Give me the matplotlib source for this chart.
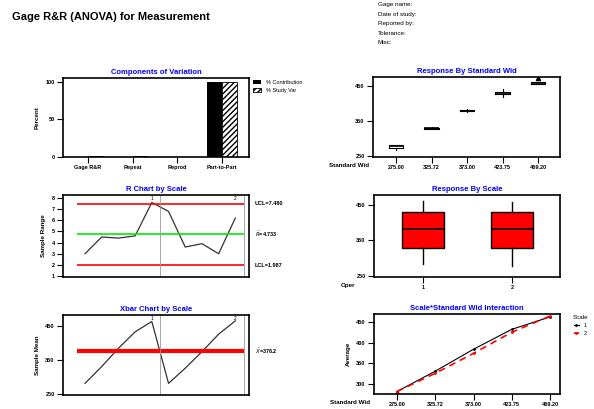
import numpy as np
import matplotlib
matplotlib.use("Agg")
from matplotlib import pyplot as plt

plt.rcParams['font.family'] = ['Liberation Sans', 'DejaVu Sans']

W, H = 594, 409

# components of variation
components = ['Gage R&R', 'Repeat', 'Reprod', 'Part-to-Part']
pct_contribution = [0.3, 0.25, 0.05, 99.7]
pct_study_var = [1.5, 1.3, 0.6, 99.8]

# response by standard width (box summaries)
widths = ['275.00', '325.72', '373.00', '423.75', '469.20']
part_whislo = [268, 326, 376, 419, 455]
part_q1 = [274, 328, 378, 428, 457]
part_med = [279, 330, 379, 430, 459]
part_q3 = [281, 331, 381, 432, 461]
part_whishi = [282, 333, 383, 441, 463]
part_fliers = [[], [], [], [], [473]]

# response by operator (box summaries)
opers = ['1', '2']
oper_whislo = [284, 278]
oper_q1 = [329, 329]
oper_med = [382, 382]
oper_q3 = [430, 430]
oper_whishi = [461, 459]

# R chart / Xbar chart, 5 parts per operator
r_op1 = [3.0, 4.5, 4.4, 4.6, 7.6]
r_op2 = [6.8, 3.6, 3.9, 3.0, 6.2]
ucl_r, rbar, lcl_r = 7.480, 4.733, 1.987
xbar_op1 = [282, 331, 384, 432, 462]
xbar_op2 = [282, 326, 374, 425, 464]

header = ['Gage name:', 'Date of study:', 'Reported by:', 'Tolerance:', 'Misc:']


def rect(x0, y0, x1, y1):
    return [x0 / W, 1 - y1 / H, (x1 - x0) / W, (y1 - y0) / H]


def style(ax, title):
    ax.set_title(title, color='#0000ff', fontsize=5.5, fontweight='bold', pad=3)
    for s in ax.spines.values():
        s.set_linewidth(1.2)
    ax.tick_params(labelsize=4, length=4, width=0.8, pad=2)
    for lab in ax.get_xticklabels() + ax.get_yticklabels():
        lab.set_fontweight('bold')


fig = plt.figure(figsize=(W / 100, H / 100), dpi=100)
fig.text(12 / W, 1 - 17 / H, 'Gage R&R (ANOVA) for Measurement', fontsize=8,
         fontweight='bold', va='center')
for i, h in enumerate(header):
    fig.text(378 / W, 1 - (4.5 + i * 9.6) / H, h, fontsize=4.5, va='center')

# components of variation
ax = fig.add_axes(rect(63, 78, 249, 157))
x = np.arange(1, len(components) + 1)
ax.bar(x - 0.17, pct_contribution, 0.34, color='black', label='% Contribution')
ax.bar(x + 0.17, pct_study_var, 0.34, color='white', edgecolor='black',
       hatch='//////', linewidth=0.6, label='% Study Var')
ax.set_xlim(0.44, 4.6)
ax.set_ylim(0, 105)
ax.set_yticks([0, 50, 100])
ax.set_xticks(x)
ax.set_xticklabels(components)
ax.set_ylabel('Percent', fontsize=4.5, fontweight='bold')
ax.legend(loc='upper left', bbox_to_anchor=(1.01, 1.0), fontsize=4, frameon=False,
          handlelength=1.5, handleheight=0.8, borderaxespad=0)
style(ax, 'Components of Variation')

# response by standard width
ax = fig.add_axes(rect(373, 77, 560, 157))
stats = [dict(whislo=a, q1=b, med=c, q3=d, whishi=e, fliers=f)
         for a, b, c, d, e, f in zip(part_whislo, part_q1, part_med, part_q3,
                                     part_whishi, part_fliers)]
ax.bxp(stats, positions=range(1, 6), widths=0.4, showcaps=False,
       boxprops=dict(color='black', lw=0.8), medianprops=dict(color='black', lw=1.2),
       whiskerprops=dict(color='black', lw=0.8),
       flierprops=dict(marker='^', markerfacecolor='black', markersize=3))
ax.set_xlim(0.35, 5.62)
ax.set_ylim(247, 476)
ax.set_yticks([250, 350, 450])
ax.set_xticks(range(1, 6))
ax.set_xticklabels(widths)
ax.text(-0.02, -0.07, 'Standard Wid', transform=ax.transAxes, fontsize=4.5,
        ha='right', va='top', fontweight='bold')
style(ax, 'Response By Standard Wid')

# R chart
ax = fig.add_axes(rect(63, 195, 249, 277))
xs = np.arange(1, 11)
ax.plot(xs, r_op1 + r_op2, color='#333333', lw=0.9)
ax.hlines([ucl_r, lcl_r], 0.5, 10.5, color='#ff0000', lw=1.2)
ax.hlines(rbar, 0.5, 10.5, color='#00ee00', lw=1.2)
ax.axvline(5.5, color='0.6', lw=0.6)
ax.axvline(10.5, color='0.6', lw=0.6)
ax.set_xlim(-0.32, 10.82)
ax.set_ylim(0.91, 8.27)
ax.set_yticks(range(1, 9))
ax.set_xticks([])
ax.set_ylabel('Sample Range', fontsize=4.5, fontweight='bold')
ax.text(5, 8.2, '1', fontsize=3.5, ha='center', va='top')
ax.text(10, 8.2, '2', fontsize=3.5, ha='center', va='top')
for val, lab in [(ucl_r, 'UCL=%.3f' % ucl_r), (rbar, r'$\bar{R}$=%.3f' % rbar),
                 (lcl_r, 'LCL=%.3f' % lcl_r)]:
    ax.text(1.03, val, lab, transform=ax.get_yaxis_transform(), fontsize=4,
            va='center', fontweight='bold')
style(ax, 'R Chart by Scale')

# response by operator
ax = fig.add_axes(rect(374, 195, 560, 277))
stats = [dict(whislo=a, q1=b, med=c, q3=d, whishi=e, fliers=[])
         for a, b, c, d, e in zip(oper_whislo, oper_q1, oper_med, oper_q3, oper_whishi)]
ax.bxp(stats, positions=[1, 2], widths=0.48, showcaps=False, patch_artist=True,
       boxprops=dict(facecolor='#ff0000', edgecolor='black', lw=1.0),
       medianprops=dict(color='black', lw=1.2), whiskerprops=dict(color='black', lw=1.0))
ax.set_xlim(0.45, 2.54)
ax.set_ylim(247, 478)
ax.set_yticks([250, 350, 450])
ax.set_xticks([1, 2])
ax.set_xticklabels(opers)
ax.text(-0.1, -0.07, 'Oper', transform=ax.transAxes, fontsize=4.5,
        ha='right', va='top', fontweight='bold')
style(ax, 'Response By Scale')

# Xbar chart
ax = fig.add_axes(rect(63, 315, 249, 395))
xb = xbar_op1 + xbar_op2
ax.plot(xs, xb, color='#333333', lw=0.9)
center = np.mean(xb)
ax.hlines(center, 0.5, 10.5, color='#ff0000', lw=3)
ax.axvline(5.5, color='0.6', lw=0.6)
ax.axvline(10.5, color='0.6', lw=0.6)
ax.set_xlim(-0.32, 10.82)
ax.set_ylim(248, 481)
ax.set_yticks([250, 350, 450])
ax.set_xticks([])
ax.set_ylabel('Sample Mean', fontsize=4.5, fontweight='bold')
ax.text(5, 479, '1', fontsize=3.5, ha='center', va='top')
ax.text(10, 479, '2', fontsize=3.5, ha='center', va='top')
ax.text(1.03, center, r'$\bar{X}$=%.1f' % center, transform=ax.get_yaxis_transform(),
        fontsize=4, va='center', fontweight='bold')
style(ax, 'Xbar Chart by Scale')

# interaction
ax = fig.add_axes(rect(374, 314, 560, 394))
px = np.arange(1, 6)
ax.plot(px, xbar_op1, color='black', lw=0.8, marker='.', ms=2, label='1')
ax.plot(px, xbar_op2, color='#ff0000', lw=1.2, ls=(0, (4, 3)), marker='.', ms=2, label='2')
ax.set_xlim(0.40, 5.26)
ax.set_ylim(276, 469)
ax.set_yticks([300, 350, 400, 450])
ax.set_xticks(px)
ax.set_xticklabels(widths)
ax.set_ylabel('Average', fontsize=4.5, fontweight='bold')
ax.text(-0.02, -0.07, 'Standard Wid', transform=ax.transAxes, fontsize=4.5,
        ha='right', va='top', fontweight='bold')
ax.legend(title='Scale', loc='upper left', bbox_to_anchor=(1.04, 1.05), fontsize=4,
          title_fontsize=4.5, frameon=False, handlelength=1.0)
style(ax, 'Scale*Standard Wid Interaction')

fig.savefig('out.png', dpi=100)
